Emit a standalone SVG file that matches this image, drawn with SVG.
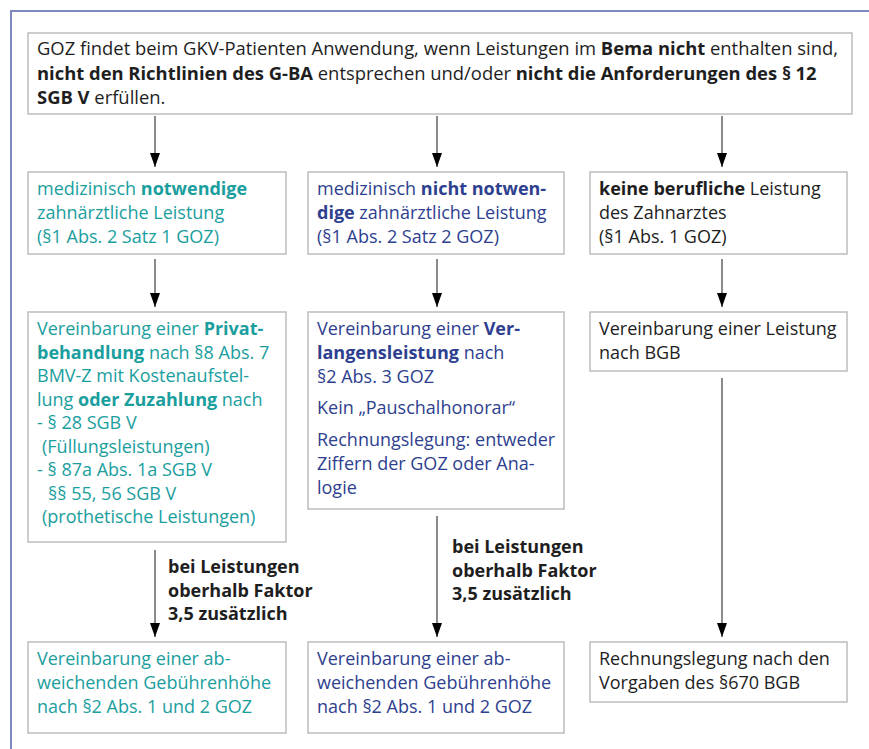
<svg xmlns="http://www.w3.org/2000/svg" width="869" height="749" viewBox="0 0 869 749">
<defs>
<style>
text{font-family:"Open Sans","Liberation Sans",sans-serif;font-size:18px;}
.box{fill:#fff;stroke:#bdbdbd;stroke-width:1.5;}
.k{fill:#1e1e1e;}
.t{fill:#1a9e9e;}
.b{fill:#2e3f8f;}
.bd{font-weight:bold;}
.big{font-size:18.4px;}
.con{stroke:#6e6e6e;stroke-width:1.6;fill:none;marker-end:url(#ah);}
.frame{stroke:#8088c0;stroke-width:2;fill:none;}
</style>
<marker id="ah" markerUnits="userSpaceOnUse" markerWidth="14" markerHeight="10" refX="14" refY="5" orient="auto" viewBox="0 0 14 10">
<path d="M0,0 L14,5 L0,10 z" fill="#000"/>
</marker>
</defs>
<rect width="869" height="749" fill="#fff"/>
<path class="frame" d="M11,749 V11 H869"/>

<g id="top">
<rect class="box" x="28" y="33" width="824" height="81"/>
<text class="k big" x="37" y="55">GOZ findet beim GKV-Patienten Anwendung, wenn Leistungen im <tspan class="bd">Bema nicht</tspan> enthalten sind,</text>
<text class="k big" x="37" y="80"><tspan class="bd">nicht den Richtlinien des G-BA</tspan> entsprechen und/oder <tspan class="bd">nicht die Anforderungen des § 12</tspan></text>
<text class="k big" x="37" y="104"><tspan class="bd">SGB V</tspan> erfüllen.</text>
</g>

<g id="n1a">
<rect class="box" x="28" y="172" width="258" height="82"/>
<text class="t" x="37" y="195">medizinisch <tspan class="bd">notwendige</tspan></text>
<text class="t" x="37" y="219">zahnärztliche Leistung</text>
<text class="t" x="37" y="243">(§1 Abs. 2 Satz 1 GOZ)</text>
</g>
<g id="n2a">
<rect class="box" x="308" y="172" width="256" height="82"/>
<text class="b" x="317" y="195">medizinisch <tspan class="bd">nicht notwen-</tspan></text>
<text class="b" x="317" y="219"><tspan class="bd">dige</tspan> zahnärztliche Leistung</text>
<text class="b" x="317" y="243">(§1 Abs. 2 Satz 2 GOZ)</text>
</g>
<g id="n3a">
<rect class="box" x="590" y="172" width="257" height="82"/>
<text class="k" x="599" y="195"><tspan class="bd">keine berufliche</tspan> Leistung</text>
<text class="k" x="599" y="219">des Zahnarztes</text>
<text class="k" x="599" y="243">(§1 Abs. 1 GOZ)</text>
</g>

<g id="n1b">
<rect class="box" x="28" y="312" width="258" height="230"/>
<text class="t" x="37" y="335">Vereinbarung einer <tspan class="bd">Privat-</tspan></text>
<text class="t" x="37" y="359"><tspan class="bd">behandlung</tspan> nach §8 Abs. 7</text>
<text class="t" x="37" y="382">BMV-Z mit Kostenaufstel-</text>
<text class="t" x="37" y="406">lung <tspan class="bd">oder Zuzahlung</tspan> nach</text>
<text class="t" x="37" y="429">- § 28 SGB V</text>
<text class="t" x="42" y="453">(Füllungsleistungen)</text>
<text class="t" x="37" y="476">- § 87a Abs. 1a SGB V</text>
<text class="t" x="48" y="500">§§ 55, 56 SGB V</text>
<text class="t" x="42" y="523">(prothetische Leistungen)</text>
</g>
<g id="n2b">
<rect class="box" x="308" y="312" width="256" height="197"/>
<text class="b" x="317" y="335">Vereinbarung einer <tspan class="bd">Ver-</tspan></text>
<text class="b" x="317" y="359"><tspan class="bd">langensleistung</tspan> nach</text>
<text class="b" x="317" y="383">§2 Abs. 3 GOZ</text>
<text class="b" x="317" y="414">Kein „Pauschalhonorar“</text>
<text class="b" x="317" y="446">Rechnungslegung: entweder</text>
<text class="b" x="317" y="470">Ziffern der GOZ oder Ana-</text>
<text class="b" x="317" y="494">logie</text>
</g>
<g id="n3b">
<rect class="box" x="590" y="312" width="257" height="59"/>
<text class="k" x="599" y="335">Vereinbarung einer Leistung</text>
<text class="k" x="599" y="359">nach BGB</text>
</g>

<g id="n1c">
<rect class="box" x="28" y="642" width="258" height="91"/>
<text class="t" x="37" y="665">Vereinbarung einer ab-</text>
<text class="t" x="37" y="689">weichenden Gebührenhöhe</text>
<text class="t" x="37" y="713">nach §2 Abs. 1 und 2 GOZ</text>
</g>
<g id="n2c">
<rect class="box" x="308" y="642" width="256" height="91"/>
<text class="b" x="317" y="665">Vereinbarung einer ab-</text>
<text class="b" x="317" y="689">weichenden Gebührenhöhe</text>
<text class="b" x="317" y="713">nach §2 Abs. 1 und 2 GOZ</text>
</g>
<g id="n3c">
<rect class="box" x="590" y="642" width="257" height="60"/>
<text class="k" x="599" y="665">Rechnungslegung nach den</text>
<text class="k" x="599" y="689">Vorgaben des §670 BGB</text>
</g>

<g id="connectors">
<line class="con" x1="155" y1="116" x2="155" y2="167"/>
<line class="con" x1="437" y1="116" x2="437" y2="167"/>
<line class="con" x1="722" y1="116" x2="722" y2="167"/>
<line class="con" x1="155" y1="259" x2="155" y2="307"/>
<line class="con" x1="437" y1="259" x2="437" y2="307"/>
<line class="con" x1="722" y1="259" x2="722" y2="307"/>
<line class="con" x1="155" y1="550" x2="155" y2="637"/>
<line class="con" x1="437" y1="516" x2="437" y2="637"/>
<line class="con" x1="722" y1="378" x2="722" y2="637"/>
<text class="k bd" x="168" y="573">bei Leistungen</text>
<text class="k bd" x="168" y="597">oberhalb Faktor</text>
<text class="k bd" x="168" y="620">3,5 zusätzlich</text>
<text class="k bd" x="452" y="553">bei Leistungen</text>
<text class="k bd" x="452" y="577">oberhalb Faktor</text>
<text class="k bd" x="452" y="600">3,5 zusätzlich</text>
</g>
</svg>
